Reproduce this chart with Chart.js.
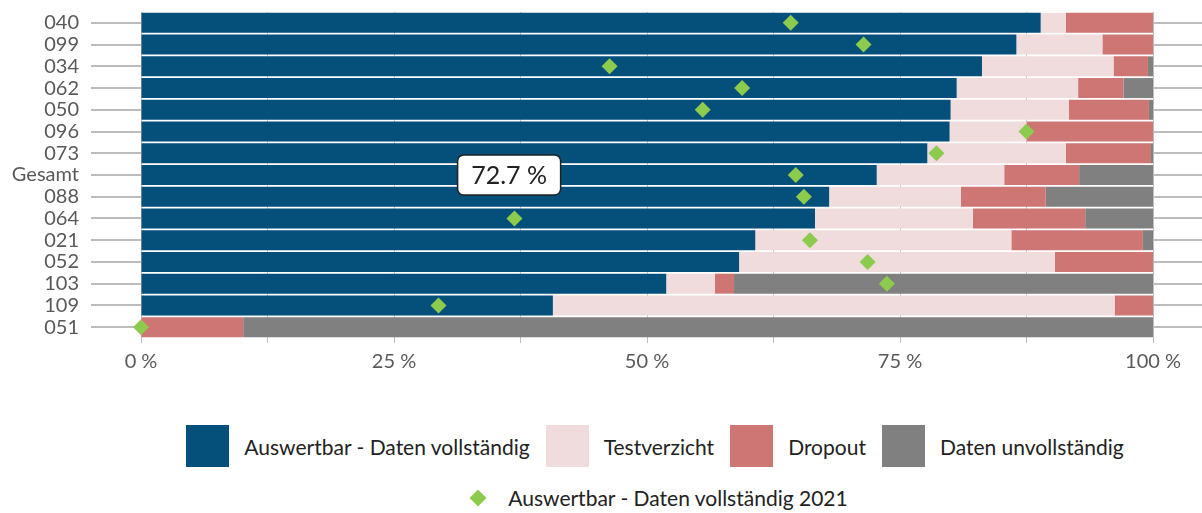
<!DOCTYPE html>
<html>
<head>
<meta charset="utf-8">
<script src="https://cdn.jsdelivr.net/npm/chart.js@4.4.1/dist/chart.umd.min.js"></script>
<style>
  body { margin: 0; background: #fff; font-family: Lato, sans-serif; }
  #wrap { position: relative; width: 1202px; height: 513px; }
  #legende { position: absolute; left: 108px; right: 0; top: 425px; color: #222; font-size: 21px; }
  .zeile { display: flex; justify-content: center; align-items: center; }
  .eintrag { display: flex; align-items: center; margin: 0 8px; }
  .box { width: 43px; height: 42px; margin-right: 15px; }
  .raute { width: 12px; height: 12px; transform: rotate(45deg); margin: 0 24px 0 10px; }
</style>
</head>
<body>
<div id="wrap">
  <canvas id="chart" width="1202" height="400"></canvas>
  <div id="legende"></div>
</div>
<script>
// Kategorien (Schulen) von oben nach unten
const schulen = ['040', '099', '034', '062', '050', '096', '073', 'Gesamt', '088', '064', '021', '052', '103', '109', '051'];

// Anteile in Prozent
const auswertbar   = [88.9, 86.5, 83.1, 80.6, 80.0, 79.9, 77.7, 72.7, 68.0, 66.6, 60.7, 59.1, 51.9, 40.7, 0];
const testverzicht = [2.5, 8.5, 13.0, 12.0, 11.7, 7.6, 13.7, 12.6, 13.0, 15.6, 25.3, 31.2, 4.8, 55.5, 0];
const dropout      = [8.6, 5.0, 3.4, 4.5, 7.9, 12.5, 8.4, 7.4, 8.4, 11.1, 13.0, 9.7, 1.9, 3.8, 10.1];
const unvollst     = [0, 0, 0.5, 2.9, 0.4, 0, 0.2, 7.3, 10.6, 6.7, 1.0, 0, 41.4, 0, 89.9];
const vorjahr2021  = [64.2, 71.4, 46.3, 59.4, 55.5, 87.5, 78.6, 64.7, 65.5, 36.9, 66.1, 71.8, 73.7, 29.4, 0];

const xTicks = [0, 25, 50, 75, 100];

const grau = '#bdbdbd';
const schrift = { family: 'Lato, sans-serif', size: 20 };

// Label "72.7 %" mittig im Gesamt-Balken
const gesamtLabel = {
  id: 'gesamtLabel',
  afterDatasetsDraw(chart) {
    const idx = schulen.indexOf('Gesamt');
    const el = chart.getDatasetMeta(0).data[idx];
    const ctx = chart.ctx;
    const text = auswertbar[idx].toFixed(1) + ' %';
    const cx = (el.base + el.x) / 2;
    const cy = el.y;
    const w = 103, h = 40;
    ctx.save();
    ctx.beginPath();
    ctx.roundRect(cx - w / 2, cy - h / 2, w, h, 6);
    ctx.fillStyle = '#fff';
    ctx.fill();
    ctx.lineWidth = 1.5;
    ctx.strokeStyle = '#222';
    ctx.stroke();
    ctx.fillStyle = '#222';
    ctx.font = '25px Lato, sans-serif';
    ctx.textAlign = 'center';
    ctx.textBaseline = 'middle';
    ctx.fillText(text, cx, cy + 1);
    ctx.restore();
  }
};

function balken(label, data, farbe) {
  return {
    type: 'bar',
    label: label,
    data: data,
    backgroundColor: farbe,
    stack: 'anteile',
    order: 1,
    barPercentage: 0.92,
    categoryPercentage: 1.0
  };
}

// kein Extra-Rand oben/unten für die Kategorie-Achsen
function keinPadding(s, breite) {
  s.width = breite;
  s.paddingTop = 0;
  s.paddingBottom = 0;
}

const chart = new Chart(document.getElementById('chart'), {
  type: 'bar',
  data: {
    labels: schulen,
    datasets: [
      balken('Auswertbar - Daten vollständig', auswertbar, '#054f7b'),
      balken('Testverzicht', testverzicht, '#f0dcdc'),
      balken('Dropout', dropout, '#cd7674'),
      balken('Daten unvollständig', unvollst, '#808080'),
      {
        type: 'line',
        label: 'Auswertbar - Daten vollständig 2021',
        data: vorjahr2021,
        indexAxis: 'y',
        stack: 'vorjahr',
        showLine: false,
        pointStyle: 'rectRot',
        pointRadius: 8,
        pointHoverRadius: 8,
        pointBackgroundColor: '#8dcb4f',
        pointBorderColor: '#8dcb4f',
        pointBorderWidth: 0,
        clip: false,
        order: 0
      }
    ]
  },
  options: {
    indexAxis: 'y',
    responsive: false,
    animation: false,
    layout: { padding: { top: 12 } },
    plugins: {
      legend: { display: false },
      tooltip: { enabled: false }
    },
    scales: {
      x: {
        stacked: true,
        min: 0,
        max: 100,
        afterFit: s => { s.height = 62; s.paddingLeft = 0; s.paddingRight = 0; },
        afterBuildTicks: s => { s.ticks = [0, 12.5, 25, 37.5, 50, 62.5, 75, 87.5, 100].map(v => ({ value: v })); },
        ticks: {
          autoSkip: false,
          maxRotation: 0,
          padding: 7,
          color: '#595959',
          font: schrift,
          callback: v => xTicks.includes(v) ? v + ' %' : ''
        },
        grid: { color: '#c8c8c8', lineWidth: 1, tickLength: 5, tickColor: grau },
        border: { display: false }
      },
      y: {
        stacked: true,
        offset: true,
        afterFit: s => keinPadding(s, 141),
        ticks: { autoSkip: false, padding: 12, color: '#595959', font: schrift },
        grid: { drawOnChartArea: false, offset: false, tickLength: 50, tickColor: grau, lineWidth: 2 },
        border: { display: true, color: grau, width: 1 }
      },
      y2: {
        type: 'category',
        position: 'right',
        offset: true,
        afterFit: s => keinPadding(s, 49),
        ticks: { display: false, autoSkip: false },
        grid: { drawOnChartArea: false, offset: false, tickLength: 49, tickColor: grau, lineWidth: 2 },
        border: { display: true, color: grau, width: 1 }
      }
    }
  },
  plugins: [gesamtLabel]
});

// Legende als HTML aus den Datensätzen
const legende = document.getElementById('legende');
const zeile1 = document.createElement('div');
zeile1.className = 'zeile';
const zeile2 = document.createElement('div');
zeile2.className = 'zeile';
zeile2.style.marginTop = '18px';
chart.data.datasets.forEach(ds => {
  const e = document.createElement('div');
  e.className = 'eintrag';
  const m = document.createElement('div');
  if (ds.type === 'line') {
    m.className = 'raute';
    m.style.background = ds.pointBackgroundColor;
  } else {
    m.className = 'box';
    m.style.background = ds.backgroundColor;
  }
  const t = document.createElement('span');
  t.textContent = ds.label;
  e.appendChild(m);
  e.appendChild(t);
  (ds.type === 'line' ? zeile2 : zeile1).appendChild(e);
});
legende.appendChild(zeile1);
legende.appendChild(zeile2);
</script>
</body>
</html>
